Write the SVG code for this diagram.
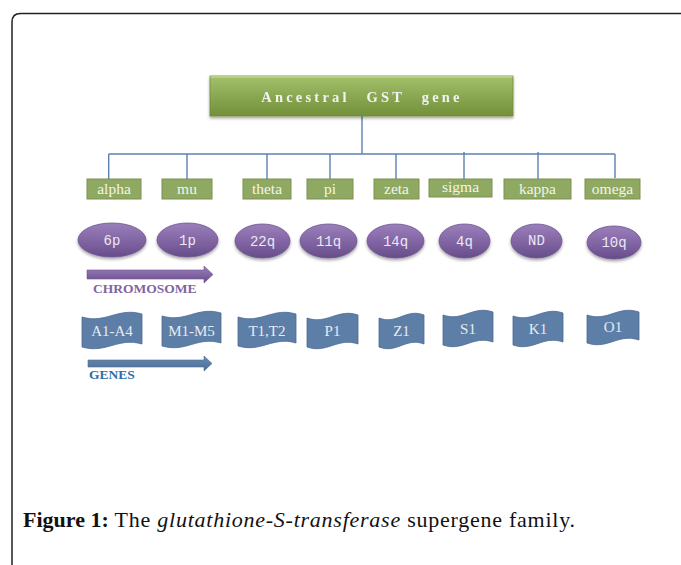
<svg xmlns="http://www.w3.org/2000/svg" width="681" height="565" viewBox="0 0 681 565">
<defs>
<linearGradient id="gTitle" x1="0" y1="0" x2="0" y2="1">
<stop offset="0" stop-color="#a3c16a"/><stop offset="0.5" stop-color="#8aa852"/><stop offset="1" stop-color="#73903a"/>
</linearGradient>
<linearGradient id="gPurple" x1="0" y1="0" x2="0" y2="1">
<stop offset="0" stop-color="#9a80bb"/><stop offset="0.55" stop-color="#8064a2"/><stop offset="1" stop-color="#674c8a"/>
</linearGradient>
<linearGradient id="gBlue" x1="0" y1="0" x2="0" y2="1">
<stop offset="0" stop-color="#6a8bb3"/><stop offset="1" stop-color="#4d6d96"/>
</linearGradient>
<filter id="shadow" x="-20%" y="-30%" width="140%" height="170%">
<feDropShadow dx="0" dy="2" stdDeviation="1.5" flood-color="#000" flood-opacity="0.35"/>
</filter>
<style>
.lbl rect{fill:#8fa862;stroke:#7b924f;stroke-width:1}
.lbl text{font-family:"Liberation Serif",serif;font-size:15.5px;fill:#f3f5ea;text-anchor:middle}
.chr ellipse{fill:url(#gPurple);stroke:#6e5592;stroke-width:0.8;filter:url(#shadow)}
.chr text{font-family:"Liberation Mono",monospace;font-size:14px;fill:#ece8f4;text-anchor:middle}
.gene path{fill:#5d7ea6;stroke:#4d6b93;stroke-width:0.8}
.gene text{font-family:"Liberation Serif",serif;font-size:15px;fill:#e6ebf3;text-anchor:middle}
.conn line{stroke:#5b80b0;stroke-width:1.4}
</style>
</defs>
<rect width="681" height="565" fill="#fff"/>
<path d="M12,565 V22 Q12,13.5 20.5,13.5 H681" fill="none" stroke="#222" stroke-width="1.5"/>

<g id="connectors" class="conn">
<line x1="362" y1="116" x2="362" y2="154"/>
<line x1="108.7" y1="154" x2="615" y2="154"/>
<line x1="108.7" y1="154" x2="108.7" y2="179"/>
<line x1="187" y1="154" x2="187" y2="179"/>
<line x1="267" y1="154" x2="267" y2="179"/>
<line x1="330" y1="154" x2="330" y2="179"/>
<line x1="396" y1="154" x2="396" y2="179"/>
<line x1="464" y1="152" x2="464" y2="179"/>
<line x1="538" y1="152" x2="538" y2="179"/>
<line x1="615" y1="154" x2="615" y2="178"/>
</g>

<g id="title" filter="url(#shadow)">
<rect x="210" y="76" width="303" height="40" fill="url(#gTitle)" stroke="#6f8b3a" stroke-width="0.8"/>
<line x1="210.5" y1="76.8" x2="512.5" y2="76.8" stroke="#c6dc9c" stroke-width="1.2"/>
<text x="362" y="102" font-family="Liberation Serif,serif" font-weight="bold" font-size="14.5" letter-spacing="3.2" word-spacing="10" fill="#f2f2f2" text-anchor="middle">Ancestral GST gene</text>
</g>

<g id="lbl-alpha" class="lbl"><rect x="87" y="179" width="54" height="20"/><text x="114" y="194">alpha</text></g>
<g id="lbl-mu" class="lbl"><rect x="162" y="179" width="50" height="20"/><text x="187" y="194">mu</text></g>
<g id="lbl-theta" class="lbl"><rect x="243" y="179" width="48" height="20"/><text x="267" y="194">theta</text></g>
<g id="lbl-pi" class="lbl"><rect x="307" y="179" width="46" height="20"/><text x="330" y="194">pi</text></g>
<g id="lbl-zeta" class="lbl"><rect x="374" y="179" width="45" height="20"/><text x="396.5" y="194">zeta</text></g>
<g id="lbl-sigma" class="lbl"><rect x="429" y="179" width="63" height="18"/><text x="460.5" y="192">sigma</text></g>
<g id="lbl-kappa" class="lbl"><rect x="504" y="179" width="67" height="20"/><text x="537.5" y="194">kappa</text></g>
<g id="lbl-omega" class="lbl"><rect x="585" y="179" width="55" height="20"/><text x="612.5" y="194">omega</text></g>

<g id="chr-6p" class="chr"><ellipse cx="112" cy="240" rx="34" ry="17"/><text x="112" y="245">6p</text></g>
<g id="chr-1p" class="chr"><ellipse cx="187.5" cy="240" rx="30.5" ry="17"/><text x="187.5" y="245">1p</text></g>
<g id="chr-22q" class="chr"><ellipse cx="262.5" cy="241" rx="27.5" ry="17"/><text x="262.5" y="246">22q</text></g>
<g id="chr-11q" class="chr"><ellipse cx="328.5" cy="241" rx="28.5" ry="17"/><text x="328.5" y="246">11q</text></g>
<g id="chr-14q" class="chr"><ellipse cx="395.5" cy="241" rx="28.5" ry="17"/><text x="395.5" y="246">14q</text></g>
<g id="chr-4q" class="chr"><ellipse cx="464.5" cy="241" rx="25.5" ry="17"/><text x="464.5" y="246">4q</text></g>
<g id="chr-ND" class="chr"><ellipse cx="536.5" cy="241" rx="25.5" ry="17"/><text x="536.5" y="245">ND</text></g>
<g id="chr-10q" class="chr"><ellipse cx="614" cy="242.5" rx="27" ry="16.5"/><text x="614" y="247">10q</text></g>

<g id="arrow-chromosome">
<path d="M87,270 H204 V266 L213,274.5 L204,283 V279 H87 Z" fill="url(#gPurple)" stroke="#6e5592" stroke-width="0.6"/>
<text x="93" y="293" font-family="Liberation Serif,serif" font-weight="bold" font-size="13.5" fill="#8064a2">CHROMOSOME</text>
</g>

<g id="gene-A" class="gene"><path d="M82,317 C106,324 118,307 142,314 V344 C118,337 106,354 82,347 Z"/><text x="112" y="336">A1-A4</text></g>
<g id="gene-M" class="gene"><path d="M162,316 C186,323 197,306 221,313 V343 C197,336 186,353 162,346 Z"/><text x="191.5" y="336">M1-M5</text></g>
<g id="gene-T" class="gene"><path d="M238,317 C261,324 273,307 296,314 V343 C273,336 261,353 238,346 Z"/><text x="267" y="336">T1,T2</text></g>
<g id="gene-P" class="gene"><path d="M307,318 C327,325 338,308 358,315 V344 C338,337 327,354 307,347 Z"/><text x="332.5" y="336">P1</text></g>
<g id="gene-Z" class="gene"><path d="M379,318 C397,325 406,308 424,315 V344 C406,337 397,354 379,347 Z"/><text x="401.5" y="336">Z1</text></g>
<g id="gene-S" class="gene"><path d="M443,315 C463,322 473,305 493,312 V342 C473,335 463,352 443,345 Z"/><text x="468" y="334">S1</text></g>
<g id="gene-K" class="gene"><path d="M513,316 C533,323 543,306 563,313 V342 C543,335 533,352 513,345 Z"/><text x="538" y="334">K1</text></g>
<g id="gene-O" class="gene"><path d="M587,315 C608,322 618,305 639,312 V340 C618,333 608,350 587,343 Z"/><text x="613" y="332">O1</text></g>

<g id="arrow-genes">
<path d="M88,360 H204 V356 L212,363.5 L204,371 V367 H88 Z" fill="url(#gBlue)" stroke="#4d6b93" stroke-width="0.6"/>
<text x="89" y="379" font-family="Liberation Serif,serif" font-weight="bold" font-size="13.5" fill="#2a6fa8">GENES</text>
</g>

<g id="caption">
<text x="23" y="527" font-family="Liberation Serif,serif" font-size="22" fill="#111"><tspan font-weight="bold">Figure 1:</tspan><tspan letter-spacing="0.75"> The <tspan font-style="italic">glutathione-S-transferase</tspan> supergene family.</tspan></text>
</g>
</svg>
